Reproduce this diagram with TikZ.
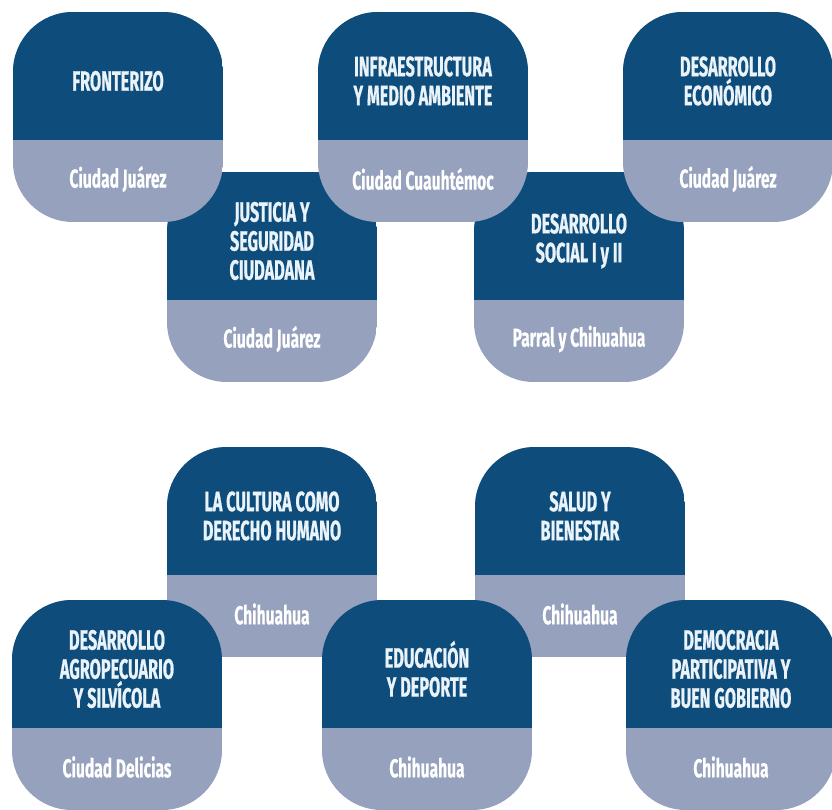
\documentclass[tikz,border=0pt]{standalone}
\usepackage{fontspec}
\newfontfamily\condfont[FakeStretch=0.58, FakeBold=0.6]{Fira Sans}
\newfontfamily\condcityfont[FakeStretch=0.6, FakeBold=0.3]{Fira Sans}

\definecolor{azul}{HTML}{0E4D7B}
\definecolor{gris}{HTML}{95A1BD}
\definecolor{textoclaro}{HTML}{EAF3F9}

\tikzset{
    titulo/.style={align=center, inner sep=0pt, text=textoclaro,
        font=\condfont\bfseries\fontsize{28}{29}\selectfont},
    ciudad/.style={align=center, inner sep=0pt, text=white,
        font=\condcityfont\bfseries\fontsize{26}{28}\selectfont}
}

% #1 name, #2 left, #3 top, #4 heading, #5 city
\newcommand{\tarjeta}[5]{
    \begin{scope}
        \path[clip, rounded corners=\radio] (#2,#3) rectangle ++(\ancho,\alto);
        \fill[gris] (#2,#3) rectangle ++(\ancho,\alto);
        \fill[azul] (#2,#3) rectangle ++(\ancho,\corte);
    \end{scope}
    \node[titulo] (#1-titulo) at (#2+\ancho/2, #3+\corte/2+5) {#4};
    \node[ciudad] (#1-ciudad) at (#2+\ancho/2, #3+\corte+\alto/2-\corte/2-2) {#5};
}

\begin{document}
\begin{tikzpicture}[x=1pt, y=-1pt]
    \def\ancho{210}
    \def\alto{210}
    \def\corte{128}
    \def\radio{60pt}
    \useasboundingbox (0,0) rectangle (832,809);

    % upper group
    \tarjeta{justicia}{167}{172}{JUSTICIA Y\\SEGURIDAD\\CIUDADANA}{Ciudad Juárez}
    \tarjeta{social}{474}{172}{DESARROLLO\\SOCIAL I y II}{Parral y Chihuahua}
    \tarjeta{fronterizo}{13}{12}{FRONTERIZO}{Ciudad Juárez}
    \tarjeta{infra}{318}{12}{INFRAESTRUCTURA\\Y MEDIO AMBIENTE}{Ciudad Cuauhtémoc}
    \tarjeta{economico}{623}{12}{DESARROLLO\\ECONÓMICO}{Ciudad Juárez}

    % lower group
    \tarjeta{cultura}{167}{447}{LA CULTURA COMO\\DERECHO HUMANO}{Chihuahua}
    \tarjeta{salud}{475}{447}{SALUD Y\\BIENESTAR}{Chihuahua}
    \tarjeta{agro}{12}{600}{DESARROLLO\\AGROPECUARIO\\Y SILVÍCOLA}{Ciudad Delicias}
    \tarjeta{educacion}{322}{600}{EDUCACIÓN\\Y DEPORTE}{Chihuahua}
    \tarjeta{democracia}{626}{600}{DEMOCRACIA\\PARTICIPATIVA Y\\BUEN GOBIERNO}{Chihuahua}
\end{tikzpicture}
\end{document}
